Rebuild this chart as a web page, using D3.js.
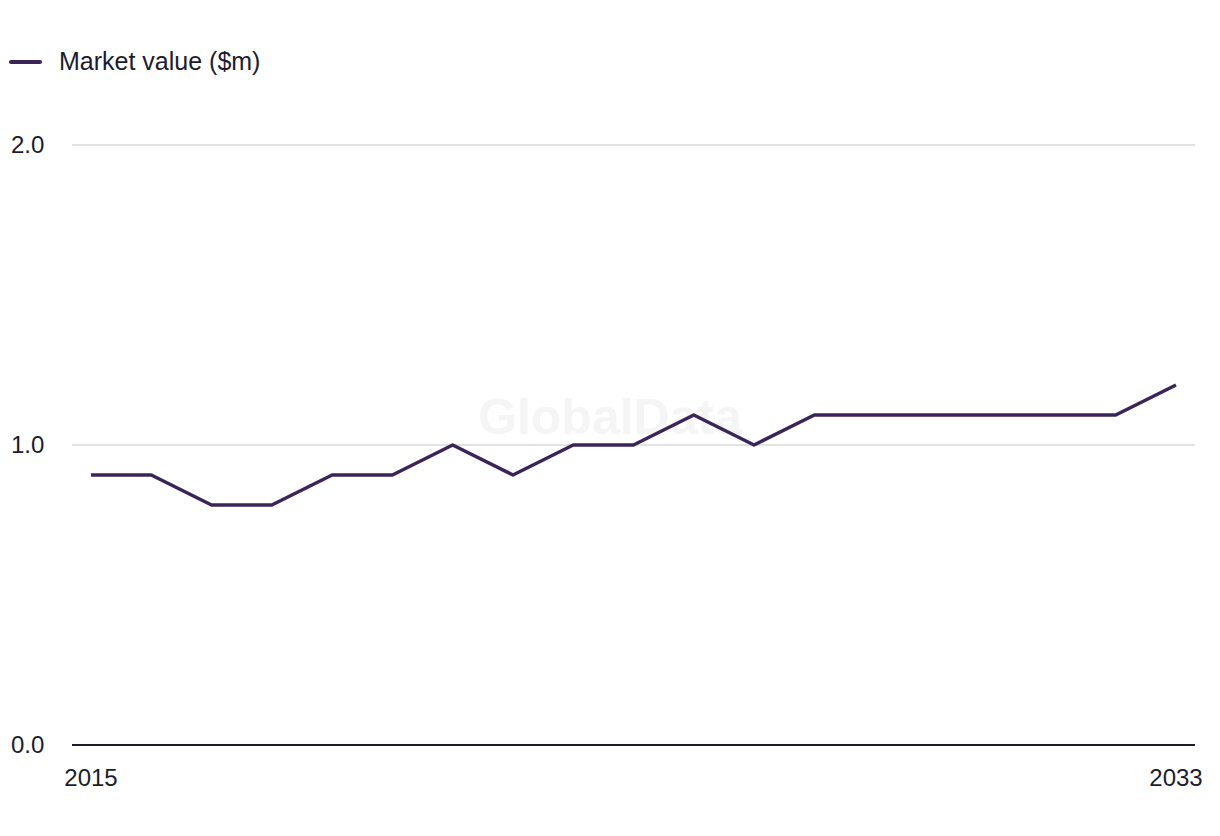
<!DOCTYPE html>
<html>
<head>
<meta charset="utf-8">
<script src="https://cdn.jsdelivr.net/npm/d3@7"></script>
<style>
  body { margin: 0; background: #fff; }
  svg { font-family: "Liberation Sans", Arial, sans-serif; }
</style>
</head>
<body>
<svg id="chart"></svg>
<script>
// chart data
const years = d3.range(2015, 2034);
const marketValue = [0.9, 0.9, 0.8, 0.8, 0.9, 0.9, 1.0, 0.9, 1.0, 1.0, 1.1, 1.0, 1.1, 1.1, 1.1, 1.1, 1.1, 1.1, 1.2];
const yTicks = [0, 1, 2];
const xTicks = [2015, 2033];
const seriesName = "Market value ($m)";

const width = 1220, height = 836;
const lineColor = "#3b2558";
const textColor = "#1c1c2e";

const svg = d3.select("#chart").attr("width", width).attr("height", height);

const x = d3.scaleLinear().domain([2015, 2033]).range([91, 1176]);
const y = d3.scaleLinear().domain([0, 2]).range([745, 145]);

// watermark
svg.append("text")
    .attr("x", 610).attr("y", 434)
    .attr("text-anchor", "middle")
    .style("font-size", "50px").style("font-weight", "bold")
    .style("fill", "#f5f5f5")
    .text("GlobalData");

// gridlines
svg.append("g")
    .selectAll("line")
    .data(yTicks.filter(d => d > 0))
    .join("line")
    .attr("x1", 72).attr("x2", 1195)
    .attr("y1", d => y(d)).attr("y2", d => y(d))
    .style("stroke", "#d9d9d9").style("stroke-width", 1.3);

// baseline
svg.append("line")
    .attr("x1", 72).attr("x2", 1195)
    .attr("y1", y(0)).attr("y2", y(0))
    .style("stroke", textColor).style("stroke-width", 2);

// y labels
svg.append("g")
    .selectAll("text")
    .data(yTicks)
    .join("text")
    .attr("x", 11).attr("y", d => y(d) + 8)
    .style("font-size", "24px").style("fill", textColor)
    .text(d => d3.format(".1f")(d));

// x labels
svg.append("g")
    .selectAll("text")
    .data(xTicks)
    .join("text")
    .attr("x", d => x(d)).attr("y", 786)
    .attr("text-anchor", "middle")
    .style("font-size", "24px").style("fill", textColor)
    .text(d => d);

// series line
const line = d3.line()
    .x((d, i) => x(years[i]))
    .y(d => y(d));

svg.append("path")
    .datum(marketValue)
    .attr("d", line)
    .style("fill", "none")
    .style("stroke", lineColor)
    .style("stroke-width", 3.5)
    .style("stroke-linejoin", "round");

// legend
const legend = svg.append("g");
legend.append("line")
    .attr("x1", 11).attr("x2", 40)
    .attr("y1", 62).attr("y2", 62)
    .style("stroke", lineColor).style("stroke-width", 4)
    .style("stroke-linecap", "round");
legend.append("text")
    .attr("x", 59).attr("y", 70)
    .style("font-size", "25px").style("fill", textColor)
    .text(seriesName);
</script>
</body>
</html>
